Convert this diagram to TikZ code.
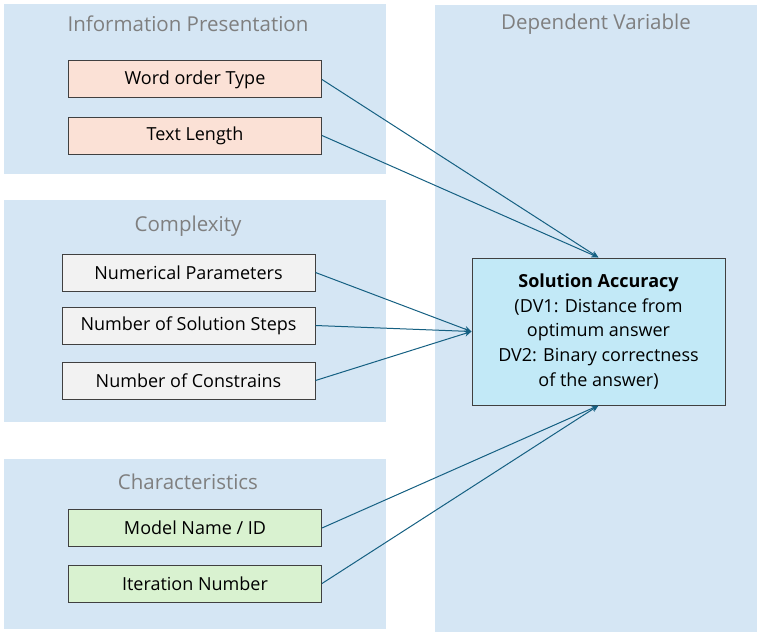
\documentclass[tikz,border=0pt]{standalone}
\usepackage{fontspec}
\setmainfont{Open Sans}
\usetikzlibrary{arrows.meta}
\definecolor{panelblue}{HTML}{D5E6F4}
\definecolor{titlegray}{HTML}{7F7F7F}
\definecolor{boxpink}{HTML}{FBE1D6}
\definecolor{boxgray}{HTML}{F2F2F2}
\definecolor{boxgreen}{HTML}{D9F2D0}
\definecolor{boxcyan}{HTML}{C2E9F7}
\definecolor{linkblue}{HTML}{156082}
\definecolor{edgegray}{HTML}{404040}
\tikzset{
  panel/.style={fill=panelblue, draw=none},
  ptitle/.style={text=titlegray, font=\fontsize{20.5}{24}\selectfont},
  var/.style={draw=edgegray, line width=1pt, minimum width=253pt, minimum height=37pt, inner sep=0pt, font=\fontsize{18}{22}\selectfont},
  link/.style={draw=linkblue, line width=1pt, -{Stealth[length=7pt, width=6pt]}}
}
\begin{document}
\begin{tikzpicture}[x=1pt, y=-1pt]
    \useasboundingbox (0,0) rectangle (761,634);

    % panels
    \fill[panel] (4, 4) rectangle (386, 174);
    \fill[panel] (4, 200) rectangle (386, 422);
    \fill[panel] (4, 459) rectangle (386, 629);
    \fill[panel] (435, 5) rectangle (757, 632);

    \node[ptitle](IP) at (188, 24) {Information Presentation};
    \node[ptitle](CX) at (188, 226) {Complexity};
    \node[ptitle](CH) at (188, 482) {Characteristics};
    \node[ptitle](DV) at (596, 24) {Dependent Variable};

    \node[var, fill=boxpink](IP_1) at (195, 79.5) {Word order Type};
    \node[var, fill=boxpink](IP_2) at (195, 135.5) {Text Length};

    \node[var, fill=boxgray](CX_1) at (188.5, 272.5) {Numerical Parameters};
    \node[var, fill=boxgray](CX_2) at (188.5, 325.5) {Number of Solution Steps};
    \node[var, fill=boxgray](CX_3) at (188.5, 380.5) {Number of Constrains};

    \node[var, fill=boxgreen](CH_1) at (195, 528) {Model Name / ID};
    \node[var, fill=boxgreen](CH_2) at (195, 583.5) {Iteration Number};

    \node[var, fill=boxcyan, minimum height=147pt, align=center, font=\fontsize{18}{24.7}\selectfont](SA) at (598.5, 331.5)
        {\textbf{Solution Accuracy}\\(DV1: Distance from\\optimum answer\\DV2: Binary correctness\\of the answer)};

    \path (IP_1.east) edge[link] (SA.north);
    \path (IP_2.east) edge[link] (SA.north);
    \path (CX_1.east) edge[link] (SA.west);
    \path (CX_2.east) edge[link] (SA.west);
    \path (CX_3.east) edge[link] (SA.west);
    \path (CH_1.east) edge[link] (SA.south);
    \path (CH_2.east) edge[link] (SA.south);
\end{tikzpicture}
\end{document}
